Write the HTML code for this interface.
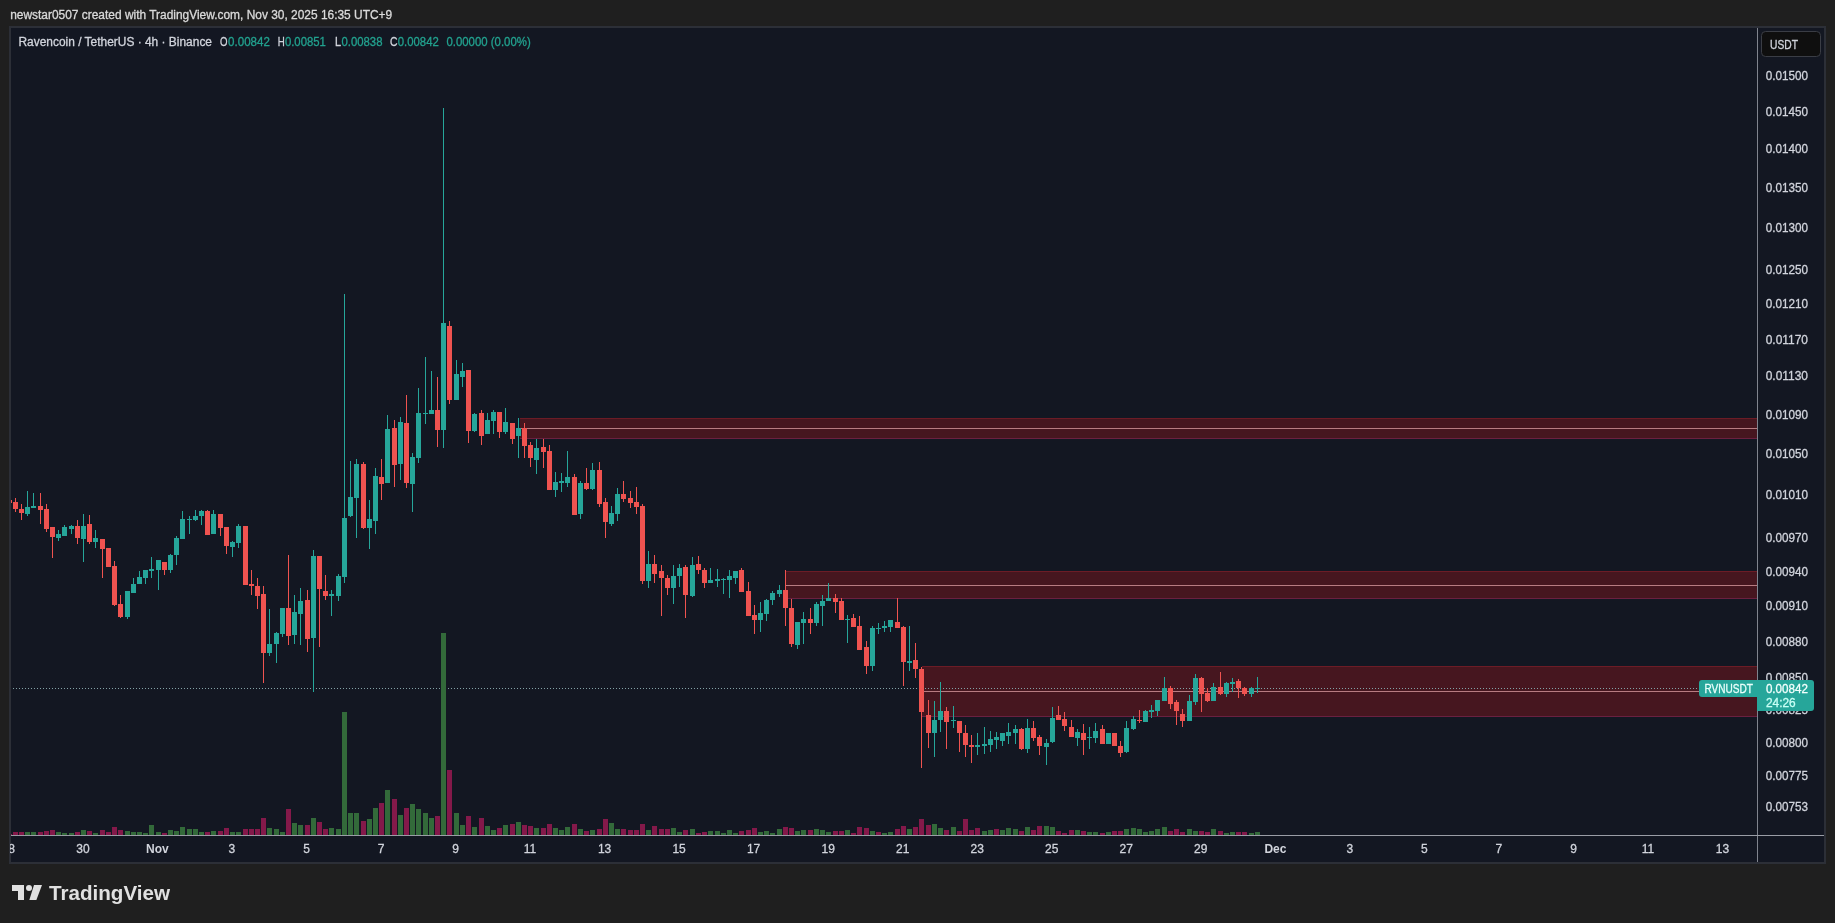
<!DOCTYPE html>
<html><head><meta charset="utf-8"><title>RVNUSDT chart</title>
<style>html,body{margin:0;padding:0;background:#1f1f1f;width:1835px;height:923px;overflow:hidden}</style>
</head><body>
<svg width="1835" height="923" viewBox="0 0 1835 923" style="position:absolute;left:0;top:0;will-change:transform">
<rect x="0" y="0" width="1835" height="923" fill="#1f1f1f"/>
<rect x="9" y="26" width="1817" height="838" fill="#2c2f37"/>
<rect x="11" y="28" width="1813" height="834" fill="#131722"/>
<defs><clipPath id="pane"><rect x="11" y="28" width="1746" height="807"/></clipPath><clipPath id="taxis"><rect x="10" y="836" width="1747" height="26"/></clipPath></defs>
<g clip-path="url(#pane)" shape-rendering="crispEdges">
<rect x="520" y="418" width="1237" height="21" fill="#46161f"/>
<rect x="520" y="418" width="1237" height="1" fill="#6c1c26"/>
<rect x="520" y="438" width="1237" height="1" fill="#6a2040"/>
<rect x="520" y="428" width="1237" height="1" fill="#b87c82"/>
<rect x="785" y="571" width="972" height="28" fill="#46161f"/>
<rect x="785" y="571" width="972" height="1" fill="#6c1c26"/>
<rect x="785" y="598" width="972" height="1" fill="#6a2040"/>
<rect x="785" y="585" width="972" height="1" fill="#b87c82"/>
<rect x="922" y="666" width="835" height="51" fill="#46161f"/>
<rect x="922" y="666" width="835" height="1" fill="#6c1c26"/>
<rect x="922" y="716" width="835" height="1" fill="#6a2040"/>
<rect x="922" y="691" width="835" height="1" fill="#b87c82"/>
<line x1="13" y1="688.5" x2="1699" y2="688.5" stroke="#84a2a6" stroke-width="1" stroke-dasharray="1,2" shape-rendering="crispEdges"/>
<rect x="7" y="834" width="5" height="1" fill="#84194a"/>
<rect x="13" y="832" width="5" height="3" fill="#84194a"/>
<rect x="19" y="832" width="5" height="3" fill="#84194a"/>
<rect x="25" y="832" width="5" height="3" fill="#336a3a"/>
<rect x="31" y="832" width="5" height="3" fill="#336a3a"/>
<rect x="38" y="832" width="5" height="3" fill="#84194a"/>
<rect x="44" y="831" width="5" height="4" fill="#84194a"/>
<rect x="50" y="830" width="5" height="5" fill="#84194a"/>
<rect x="56" y="832" width="5" height="3" fill="#336a3a"/>
<rect x="62" y="833" width="5" height="2" fill="#336a3a"/>
<rect x="69" y="833" width="5" height="2" fill="#336a3a"/>
<rect x="75" y="832" width="5" height="3" fill="#84194a"/>
<rect x="81" y="830" width="5" height="5" fill="#336a3a"/>
<rect x="87" y="831" width="5" height="4" fill="#84194a"/>
<rect x="93" y="833" width="5" height="2" fill="#336a3a"/>
<rect x="100" y="830" width="5" height="5" fill="#84194a"/>
<rect x="106" y="832" width="5" height="3" fill="#84194a"/>
<rect x="112" y="827" width="5" height="8" fill="#84194a"/>
<rect x="118" y="830" width="5" height="5" fill="#84194a"/>
<rect x="125" y="831" width="5" height="4" fill="#336a3a"/>
<rect x="131" y="832" width="5" height="3" fill="#336a3a"/>
<rect x="137" y="832" width="5" height="3" fill="#336a3a"/>
<rect x="143" y="833" width="5" height="2" fill="#336a3a"/>
<rect x="149" y="825" width="5" height="10" fill="#336a3a"/>
<rect x="156" y="832" width="5" height="3" fill="#336a3a"/>
<rect x="162" y="833" width="5" height="2" fill="#84194a"/>
<rect x="168" y="830" width="5" height="5" fill="#336a3a"/>
<rect x="174" y="831" width="5" height="4" fill="#336a3a"/>
<rect x="180" y="827" width="5" height="8" fill="#336a3a"/>
<rect x="187" y="829" width="5" height="6" fill="#336a3a"/>
<rect x="193" y="829" width="5" height="6" fill="#336a3a"/>
<rect x="199" y="832" width="5" height="3" fill="#336a3a"/>
<rect x="205" y="832" width="5" height="3" fill="#84194a"/>
<rect x="211" y="831" width="5" height="4" fill="#336a3a"/>
<rect x="218" y="831" width="5" height="4" fill="#84194a"/>
<rect x="224" y="828" width="5" height="7" fill="#84194a"/>
<rect x="230" y="832" width="5" height="3" fill="#336a3a"/>
<rect x="236" y="832" width="5" height="3" fill="#336a3a"/>
<rect x="243" y="829" width="5" height="6" fill="#84194a"/>
<rect x="249" y="829" width="5" height="6" fill="#84194a"/>
<rect x="255" y="829" width="5" height="6" fill="#84194a"/>
<rect x="261" y="818" width="5" height="17" fill="#84194a"/>
<rect x="267" y="828" width="5" height="7" fill="#336a3a"/>
<rect x="274" y="829" width="5" height="6" fill="#336a3a"/>
<rect x="280" y="832" width="5" height="3" fill="#336a3a"/>
<rect x="286" y="809" width="5" height="26" fill="#84194a"/>
<rect x="292" y="823" width="5" height="12" fill="#336a3a"/>
<rect x="298" y="825" width="5" height="10" fill="#336a3a"/>
<rect x="305" y="825" width="5" height="10" fill="#84194a"/>
<rect x="311" y="818" width="5" height="17" fill="#336a3a"/>
<rect x="317" y="822" width="5" height="13" fill="#84194a"/>
<rect x="323" y="829" width="5" height="6" fill="#84194a"/>
<rect x="329" y="828" width="5" height="7" fill="#336a3a"/>
<rect x="336" y="829" width="5" height="6" fill="#336a3a"/>
<rect x="342" y="712" width="5" height="123" fill="#336a3a"/>
<rect x="348" y="813" width="5" height="22" fill="#336a3a"/>
<rect x="354" y="813" width="5" height="22" fill="#336a3a"/>
<rect x="361" y="821" width="5" height="14" fill="#84194a"/>
<rect x="367" y="819" width="5" height="16" fill="#336a3a"/>
<rect x="373" y="808" width="5" height="27" fill="#336a3a"/>
<rect x="379" y="803" width="5" height="32" fill="#84194a"/>
<rect x="385" y="790" width="5" height="45" fill="#336a3a"/>
<rect x="392" y="799" width="5" height="36" fill="#84194a"/>
<rect x="398" y="815" width="5" height="20" fill="#336a3a"/>
<rect x="404" y="808" width="5" height="27" fill="#84194a"/>
<rect x="410" y="804" width="5" height="31" fill="#336a3a"/>
<rect x="416" y="809" width="5" height="26" fill="#336a3a"/>
<rect x="423" y="813" width="5" height="22" fill="#336a3a"/>
<rect x="429" y="818" width="5" height="17" fill="#336a3a"/>
<rect x="435" y="816" width="5" height="19" fill="#84194a"/>
<rect x="441" y="633" width="5" height="202" fill="#336a3a"/>
<rect x="447" y="770" width="5" height="65" fill="#84194a"/>
<rect x="454" y="813" width="5" height="22" fill="#336a3a"/>
<rect x="460" y="825" width="5" height="10" fill="#336a3a"/>
<rect x="466" y="816" width="5" height="19" fill="#84194a"/>
<rect x="472" y="827" width="5" height="8" fill="#336a3a"/>
<rect x="479" y="818" width="5" height="17" fill="#84194a"/>
<rect x="485" y="826" width="5" height="9" fill="#336a3a"/>
<rect x="491" y="830" width="5" height="5" fill="#336a3a"/>
<rect x="497" y="828" width="5" height="7" fill="#84194a"/>
<rect x="503" y="825" width="5" height="10" fill="#336a3a"/>
<rect x="510" y="824" width="5" height="11" fill="#84194a"/>
<rect x="516" y="822" width="5" height="13" fill="#336a3a"/>
<rect x="522" y="825" width="5" height="10" fill="#84194a"/>
<rect x="528" y="826" width="5" height="9" fill="#84194a"/>
<rect x="534" y="828" width="5" height="7" fill="#336a3a"/>
<rect x="541" y="828" width="5" height="7" fill="#84194a"/>
<rect x="547" y="824" width="5" height="11" fill="#84194a"/>
<rect x="553" y="828" width="5" height="7" fill="#336a3a"/>
<rect x="559" y="830" width="5" height="5" fill="#336a3a"/>
<rect x="565" y="827" width="5" height="8" fill="#336a3a"/>
<rect x="572" y="824" width="5" height="11" fill="#84194a"/>
<rect x="578" y="829" width="5" height="6" fill="#336a3a"/>
<rect x="584" y="831" width="5" height="4" fill="#84194a"/>
<rect x="590" y="830" width="5" height="5" fill="#336a3a"/>
<rect x="597" y="829" width="5" height="6" fill="#84194a"/>
<rect x="603" y="819" width="5" height="16" fill="#84194a"/>
<rect x="609" y="823" width="5" height="12" fill="#336a3a"/>
<rect x="615" y="829" width="5" height="6" fill="#336a3a"/>
<rect x="621" y="829" width="5" height="6" fill="#84194a"/>
<rect x="628" y="830" width="5" height="5" fill="#84194a"/>
<rect x="634" y="830" width="5" height="5" fill="#84194a"/>
<rect x="640" y="824" width="5" height="11" fill="#84194a"/>
<rect x="646" y="830" width="5" height="5" fill="#336a3a"/>
<rect x="652" y="826" width="5" height="9" fill="#84194a"/>
<rect x="659" y="829" width="5" height="6" fill="#84194a"/>
<rect x="665" y="829" width="5" height="6" fill="#84194a"/>
<rect x="671" y="828" width="5" height="7" fill="#336a3a"/>
<rect x="677" y="832" width="5" height="3" fill="#336a3a"/>
<rect x="683" y="830" width="5" height="5" fill="#84194a"/>
<rect x="690" y="829" width="5" height="6" fill="#336a3a"/>
<rect x="696" y="833" width="5" height="2" fill="#84194a"/>
<rect x="702" y="832" width="5" height="3" fill="#84194a"/>
<rect x="708" y="831" width="5" height="4" fill="#336a3a"/>
<rect x="715" y="831" width="5" height="4" fill="#336a3a"/>
<rect x="721" y="833" width="5" height="2" fill="#336a3a"/>
<rect x="727" y="830" width="5" height="5" fill="#336a3a"/>
<rect x="733" y="833" width="5" height="2" fill="#336a3a"/>
<rect x="739" y="831" width="5" height="4" fill="#84194a"/>
<rect x="746" y="830" width="5" height="5" fill="#84194a"/>
<rect x="752" y="828" width="5" height="7" fill="#84194a"/>
<rect x="758" y="832" width="5" height="3" fill="#336a3a"/>
<rect x="764" y="831" width="5" height="4" fill="#336a3a"/>
<rect x="770" y="833" width="5" height="2" fill="#336a3a"/>
<rect x="777" y="829" width="5" height="6" fill="#336a3a"/>
<rect x="783" y="827" width="5" height="8" fill="#84194a"/>
<rect x="789" y="828" width="5" height="7" fill="#84194a"/>
<rect x="795" y="831" width="5" height="4" fill="#336a3a"/>
<rect x="801" y="830" width="5" height="5" fill="#336a3a"/>
<rect x="808" y="830" width="5" height="5" fill="#84194a"/>
<rect x="814" y="829" width="5" height="6" fill="#336a3a"/>
<rect x="820" y="830" width="5" height="5" fill="#336a3a"/>
<rect x="826" y="832" width="5" height="3" fill="#336a3a"/>
<rect x="833" y="831" width="5" height="4" fill="#84194a"/>
<rect x="839" y="831" width="5" height="4" fill="#84194a"/>
<rect x="845" y="830" width="5" height="5" fill="#336a3a"/>
<rect x="851" y="833" width="5" height="2" fill="#84194a"/>
<rect x="857" y="827" width="5" height="8" fill="#84194a"/>
<rect x="864" y="828" width="5" height="7" fill="#84194a"/>
<rect x="870" y="831" width="5" height="4" fill="#336a3a"/>
<rect x="876" y="832" width="5" height="3" fill="#84194a"/>
<rect x="882" y="833" width="5" height="2" fill="#336a3a"/>
<rect x="888" y="832" width="5" height="3" fill="#336a3a"/>
<rect x="895" y="829" width="5" height="6" fill="#84194a"/>
<rect x="901" y="826" width="5" height="9" fill="#84194a"/>
<rect x="907" y="829" width="5" height="6" fill="#336a3a"/>
<rect x="913" y="827" width="5" height="8" fill="#84194a"/>
<rect x="919" y="819" width="5" height="16" fill="#84194a"/>
<rect x="926" y="825" width="5" height="10" fill="#84194a"/>
<rect x="932" y="824" width="5" height="11" fill="#336a3a"/>
<rect x="938" y="828" width="5" height="7" fill="#336a3a"/>
<rect x="944" y="830" width="5" height="5" fill="#84194a"/>
<rect x="951" y="827" width="5" height="8" fill="#336a3a"/>
<rect x="957" y="831" width="5" height="4" fill="#84194a"/>
<rect x="963" y="819" width="5" height="16" fill="#84194a"/>
<rect x="969" y="830" width="5" height="5" fill="#84194a"/>
<rect x="975" y="828" width="5" height="7" fill="#84194a"/>
<rect x="982" y="831" width="5" height="4" fill="#336a3a"/>
<rect x="988" y="830" width="5" height="5" fill="#336a3a"/>
<rect x="994" y="829" width="5" height="6" fill="#84194a"/>
<rect x="1000" y="830" width="5" height="5" fill="#336a3a"/>
<rect x="1006" y="828" width="5" height="7" fill="#336a3a"/>
<rect x="1013" y="829" width="5" height="6" fill="#336a3a"/>
<rect x="1019" y="831" width="5" height="4" fill="#84194a"/>
<rect x="1025" y="827" width="5" height="8" fill="#336a3a"/>
<rect x="1031" y="830" width="5" height="5" fill="#84194a"/>
<rect x="1037" y="826" width="5" height="9" fill="#84194a"/>
<rect x="1044" y="826" width="5" height="9" fill="#336a3a"/>
<rect x="1050" y="827" width="5" height="8" fill="#336a3a"/>
<rect x="1056" y="831" width="5" height="4" fill="#84194a"/>
<rect x="1062" y="833" width="5" height="2" fill="#84194a"/>
<rect x="1069" y="830" width="5" height="5" fill="#84194a"/>
<rect x="1075" y="830" width="5" height="5" fill="#336a3a"/>
<rect x="1081" y="831" width="5" height="4" fill="#84194a"/>
<rect x="1087" y="832" width="5" height="3" fill="#336a3a"/>
<rect x="1093" y="832" width="5" height="3" fill="#336a3a"/>
<rect x="1100" y="833" width="5" height="2" fill="#84194a"/>
<rect x="1106" y="832" width="5" height="3" fill="#336a3a"/>
<rect x="1112" y="831" width="5" height="4" fill="#84194a"/>
<rect x="1118" y="831" width="5" height="4" fill="#84194a"/>
<rect x="1124" y="829" width="5" height="6" fill="#336a3a"/>
<rect x="1131" y="828" width="5" height="7" fill="#336a3a"/>
<rect x="1137" y="829" width="5" height="6" fill="#336a3a"/>
<rect x="1143" y="832" width="5" height="3" fill="#336a3a"/>
<rect x="1149" y="831" width="5" height="4" fill="#336a3a"/>
<rect x="1155" y="829" width="5" height="6" fill="#336a3a"/>
<rect x="1162" y="827" width="5" height="8" fill="#336a3a"/>
<rect x="1168" y="831" width="5" height="4" fill="#84194a"/>
<rect x="1174" y="829" width="5" height="6" fill="#84194a"/>
<rect x="1180" y="832" width="5" height="3" fill="#84194a"/>
<rect x="1187" y="829" width="5" height="6" fill="#336a3a"/>
<rect x="1193" y="831" width="5" height="4" fill="#336a3a"/>
<rect x="1199" y="831" width="5" height="4" fill="#84194a"/>
<rect x="1205" y="832" width="5" height="3" fill="#84194a"/>
<rect x="1211" y="829" width="5" height="6" fill="#336a3a"/>
<rect x="1218" y="831" width="5" height="4" fill="#84194a"/>
<rect x="1224" y="833" width="5" height="2" fill="#336a3a"/>
<rect x="1230" y="832" width="5" height="3" fill="#336a3a"/>
<rect x="1236" y="832" width="5" height="3" fill="#84194a"/>
<rect x="1242" y="832" width="5" height="3" fill="#84194a"/>
<rect x="1249" y="833" width="5" height="2" fill="#336a3a"/>
<rect x="1255" y="832" width="5" height="3" fill="#336a3a"/>
<rect x="9" y="499" width="1" height="1" fill="#ef5350"/>
<rect x="7" y="500" width="5" height="3" fill="#ef5350"/>
<rect x="15" y="498" width="1" height="4" fill="#ef5350"/>
<rect x="15" y="509" width="1" height="3" fill="#ef5350"/>
<rect x="13" y="502" width="5" height="7" fill="#ef5350"/>
<rect x="21" y="504" width="1" height="5" fill="#ef5350"/>
<rect x="21" y="513" width="1" height="7" fill="#ef5350"/>
<rect x="19" y="509" width="5" height="4" fill="#ef5350"/>
<rect x="27" y="491" width="1" height="16" fill="#26a69a"/>
<rect x="27" y="514" width="1" height="2" fill="#26a69a"/>
<rect x="25" y="507" width="5" height="7" fill="#26a69a"/>
<rect x="33" y="493" width="1" height="13" fill="#26a69a"/>
<rect x="31" y="506" width="5" height="2" fill="#26a69a"/>
<rect x="40" y="493" width="1" height="13" fill="#ef5350"/>
<rect x="40" y="510" width="1" height="14" fill="#ef5350"/>
<rect x="38" y="506" width="5" height="4" fill="#ef5350"/>
<rect x="46" y="504" width="1" height="5" fill="#ef5350"/>
<rect x="46" y="529" width="1" height="3" fill="#ef5350"/>
<rect x="44" y="509" width="5" height="20" fill="#ef5350"/>
<rect x="52" y="537" width="1" height="21" fill="#ef5350"/>
<rect x="50" y="527" width="5" height="10" fill="#ef5350"/>
<rect x="58" y="530" width="1" height="4" fill="#26a69a"/>
<rect x="58" y="538" width="1" height="3" fill="#26a69a"/>
<rect x="56" y="534" width="5" height="4" fill="#26a69a"/>
<rect x="64" y="525" width="1" height="2" fill="#26a69a"/>
<rect x="62" y="527" width="5" height="9" fill="#26a69a"/>
<rect x="71" y="525" width="1" height="1" fill="#26a69a"/>
<rect x="71" y="529" width="1" height="5" fill="#26a69a"/>
<rect x="69" y="526" width="5" height="3" fill="#26a69a"/>
<rect x="77" y="520" width="1" height="6" fill="#ef5350"/>
<rect x="77" y="538" width="1" height="6" fill="#ef5350"/>
<rect x="75" y="526" width="5" height="12" fill="#ef5350"/>
<rect x="83" y="514" width="1" height="12" fill="#26a69a"/>
<rect x="83" y="539" width="1" height="23" fill="#26a69a"/>
<rect x="81" y="526" width="5" height="13" fill="#26a69a"/>
<rect x="89" y="515" width="1" height="9" fill="#ef5350"/>
<rect x="89" y="542" width="1" height="2" fill="#ef5350"/>
<rect x="87" y="524" width="5" height="18" fill="#ef5350"/>
<rect x="95" y="530" width="1" height="8" fill="#26a69a"/>
<rect x="95" y="542" width="1" height="6" fill="#26a69a"/>
<rect x="93" y="538" width="5" height="4" fill="#26a69a"/>
<rect x="102" y="549" width="1" height="29" fill="#ef5350"/>
<rect x="100" y="539" width="5" height="10" fill="#ef5350"/>
<rect x="106" y="548" width="5" height="19" fill="#ef5350"/>
<rect x="114" y="561" width="1" height="5" fill="#ef5350"/>
<rect x="114" y="605" width="1" height="1" fill="#ef5350"/>
<rect x="112" y="566" width="5" height="39" fill="#ef5350"/>
<rect x="120" y="595" width="1" height="9" fill="#ef5350"/>
<rect x="120" y="617" width="1" height="1" fill="#ef5350"/>
<rect x="118" y="604" width="5" height="13" fill="#ef5350"/>
<rect x="127" y="617" width="1" height="2" fill="#26a69a"/>
<rect x="125" y="591" width="5" height="26" fill="#26a69a"/>
<rect x="133" y="578" width="1" height="6" fill="#26a69a"/>
<rect x="131" y="584" width="5" height="9" fill="#26a69a"/>
<rect x="139" y="571" width="1" height="6" fill="#26a69a"/>
<rect x="137" y="577" width="5" height="7" fill="#26a69a"/>
<rect x="145" y="578" width="1" height="6" fill="#26a69a"/>
<rect x="143" y="570" width="5" height="8" fill="#26a69a"/>
<rect x="151" y="557" width="1" height="12" fill="#26a69a"/>
<rect x="151" y="571" width="1" height="7" fill="#26a69a"/>
<rect x="149" y="569" width="5" height="2" fill="#26a69a"/>
<rect x="158" y="570" width="1" height="20" fill="#26a69a"/>
<rect x="156" y="560" width="5" height="10" fill="#26a69a"/>
<rect x="164" y="570" width="1" height="5" fill="#ef5350"/>
<rect x="162" y="562" width="5" height="8" fill="#ef5350"/>
<rect x="170" y="554" width="1" height="1" fill="#26a69a"/>
<rect x="170" y="570" width="1" height="3" fill="#26a69a"/>
<rect x="168" y="555" width="5" height="15" fill="#26a69a"/>
<rect x="176" y="536" width="1" height="2" fill="#26a69a"/>
<rect x="176" y="555" width="1" height="10" fill="#26a69a"/>
<rect x="174" y="538" width="5" height="17" fill="#26a69a"/>
<rect x="182" y="511" width="1" height="8" fill="#26a69a"/>
<rect x="180" y="519" width="5" height="20" fill="#26a69a"/>
<rect x="189" y="516" width="1" height="3" fill="#26a69a"/>
<rect x="189" y="520" width="1" height="14" fill="#26a69a"/>
<rect x="187" y="519" width="5" height="1" fill="#26a69a"/>
<rect x="195" y="510" width="1" height="6" fill="#26a69a"/>
<rect x="195" y="520" width="1" height="1" fill="#26a69a"/>
<rect x="193" y="516" width="5" height="4" fill="#26a69a"/>
<rect x="201" y="510" width="1" height="1" fill="#26a69a"/>
<rect x="201" y="516" width="1" height="9" fill="#26a69a"/>
<rect x="199" y="511" width="5" height="5" fill="#26a69a"/>
<rect x="207" y="510" width="1" height="1" fill="#ef5350"/>
<rect x="205" y="511" width="5" height="24" fill="#ef5350"/>
<rect x="213" y="510" width="1" height="4" fill="#26a69a"/>
<rect x="211" y="514" width="5" height="20" fill="#26a69a"/>
<rect x="220" y="528" width="1" height="8" fill="#ef5350"/>
<rect x="218" y="514" width="5" height="14" fill="#ef5350"/>
<rect x="226" y="546" width="1" height="8" fill="#ef5350"/>
<rect x="224" y="527" width="5" height="19" fill="#ef5350"/>
<rect x="232" y="541" width="1" height="1" fill="#26a69a"/>
<rect x="232" y="547" width="1" height="10" fill="#26a69a"/>
<rect x="230" y="542" width="5" height="5" fill="#26a69a"/>
<rect x="238" y="524" width="1" height="2" fill="#26a69a"/>
<rect x="238" y="543" width="1" height="5" fill="#26a69a"/>
<rect x="236" y="526" width="5" height="17" fill="#26a69a"/>
<rect x="243" y="526" width="5" height="59" fill="#ef5350"/>
<rect x="251" y="570" width="1" height="14" fill="#ef5350"/>
<rect x="251" y="586" width="1" height="9" fill="#ef5350"/>
<rect x="249" y="584" width="5" height="2" fill="#ef5350"/>
<rect x="257" y="578" width="1" height="8" fill="#ef5350"/>
<rect x="257" y="596" width="1" height="13" fill="#ef5350"/>
<rect x="255" y="586" width="5" height="10" fill="#ef5350"/>
<rect x="263" y="586" width="1" height="8" fill="#ef5350"/>
<rect x="263" y="653" width="1" height="30" fill="#ef5350"/>
<rect x="261" y="594" width="5" height="59" fill="#ef5350"/>
<rect x="269" y="609" width="1" height="35" fill="#26a69a"/>
<rect x="269" y="653" width="1" height="3" fill="#26a69a"/>
<rect x="267" y="644" width="5" height="9" fill="#26a69a"/>
<rect x="276" y="632" width="1" height="1" fill="#26a69a"/>
<rect x="276" y="644" width="1" height="19" fill="#26a69a"/>
<rect x="274" y="633" width="5" height="11" fill="#26a69a"/>
<rect x="282" y="634" width="1" height="3" fill="#26a69a"/>
<rect x="280" y="608" width="5" height="26" fill="#26a69a"/>
<rect x="288" y="555" width="1" height="53" fill="#ef5350"/>
<rect x="288" y="636" width="1" height="9" fill="#ef5350"/>
<rect x="286" y="608" width="5" height="28" fill="#ef5350"/>
<rect x="294" y="595" width="1" height="17" fill="#26a69a"/>
<rect x="294" y="635" width="1" height="9" fill="#26a69a"/>
<rect x="292" y="612" width="5" height="23" fill="#26a69a"/>
<rect x="300" y="588" width="1" height="13" fill="#26a69a"/>
<rect x="300" y="614" width="1" height="31" fill="#26a69a"/>
<rect x="298" y="601" width="5" height="13" fill="#26a69a"/>
<rect x="307" y="590" width="1" height="10" fill="#ef5350"/>
<rect x="307" y="639" width="1" height="13" fill="#ef5350"/>
<rect x="305" y="600" width="5" height="39" fill="#ef5350"/>
<rect x="313" y="550" width="1" height="6" fill="#26a69a"/>
<rect x="313" y="638" width="1" height="54" fill="#26a69a"/>
<rect x="311" y="556" width="5" height="82" fill="#26a69a"/>
<rect x="319" y="589" width="1" height="58" fill="#ef5350"/>
<rect x="317" y="556" width="5" height="33" fill="#ef5350"/>
<rect x="325" y="575" width="1" height="16" fill="#ef5350"/>
<rect x="325" y="596" width="1" height="4" fill="#ef5350"/>
<rect x="323" y="591" width="5" height="5" fill="#ef5350"/>
<rect x="331" y="590" width="1" height="4" fill="#26a69a"/>
<rect x="331" y="596" width="1" height="20" fill="#26a69a"/>
<rect x="329" y="594" width="5" height="2" fill="#26a69a"/>
<rect x="338" y="574" width="1" height="2" fill="#26a69a"/>
<rect x="338" y="596" width="1" height="5" fill="#26a69a"/>
<rect x="336" y="576" width="5" height="20" fill="#26a69a"/>
<rect x="344" y="294" width="1" height="224" fill="#26a69a"/>
<rect x="344" y="577" width="1" height="6" fill="#26a69a"/>
<rect x="342" y="518" width="5" height="59" fill="#26a69a"/>
<rect x="350" y="461" width="1" height="36" fill="#26a69a"/>
<rect x="350" y="516" width="1" height="1" fill="#26a69a"/>
<rect x="348" y="497" width="5" height="19" fill="#26a69a"/>
<rect x="356" y="459" width="1" height="5" fill="#26a69a"/>
<rect x="356" y="498" width="1" height="40" fill="#26a69a"/>
<rect x="354" y="464" width="5" height="34" fill="#26a69a"/>
<rect x="363" y="462" width="1" height="2" fill="#ef5350"/>
<rect x="363" y="528" width="1" height="1" fill="#ef5350"/>
<rect x="361" y="464" width="5" height="64" fill="#ef5350"/>
<rect x="369" y="500" width="1" height="19" fill="#26a69a"/>
<rect x="369" y="528" width="1" height="21" fill="#26a69a"/>
<rect x="367" y="519" width="5" height="9" fill="#26a69a"/>
<rect x="375" y="468" width="1" height="8" fill="#26a69a"/>
<rect x="375" y="521" width="1" height="13" fill="#26a69a"/>
<rect x="373" y="476" width="5" height="45" fill="#26a69a"/>
<rect x="381" y="459" width="1" height="18" fill="#ef5350"/>
<rect x="381" y="484" width="1" height="16" fill="#ef5350"/>
<rect x="379" y="477" width="5" height="7" fill="#ef5350"/>
<rect x="387" y="415" width="1" height="14" fill="#26a69a"/>
<rect x="385" y="429" width="5" height="54" fill="#26a69a"/>
<rect x="394" y="420" width="1" height="8" fill="#ef5350"/>
<rect x="394" y="465" width="1" height="22" fill="#ef5350"/>
<rect x="392" y="428" width="5" height="37" fill="#ef5350"/>
<rect x="400" y="417" width="1" height="5" fill="#26a69a"/>
<rect x="400" y="464" width="1" height="16" fill="#26a69a"/>
<rect x="398" y="422" width="5" height="42" fill="#26a69a"/>
<rect x="406" y="395" width="1" height="28" fill="#ef5350"/>
<rect x="406" y="483" width="1" height="5" fill="#ef5350"/>
<rect x="404" y="423" width="5" height="60" fill="#ef5350"/>
<rect x="412" y="453" width="1" height="4" fill="#26a69a"/>
<rect x="412" y="484" width="1" height="28" fill="#26a69a"/>
<rect x="410" y="457" width="5" height="27" fill="#26a69a"/>
<rect x="418" y="388" width="1" height="25" fill="#26a69a"/>
<rect x="418" y="458" width="1" height="5" fill="#26a69a"/>
<rect x="416" y="413" width="5" height="45" fill="#26a69a"/>
<rect x="425" y="357" width="1" height="56" fill="#26a69a"/>
<rect x="425" y="414" width="1" height="10" fill="#26a69a"/>
<rect x="423" y="413" width="5" height="1" fill="#26a69a"/>
<rect x="431" y="371" width="1" height="39" fill="#26a69a"/>
<rect x="429" y="410" width="5" height="4" fill="#26a69a"/>
<rect x="437" y="377" width="1" height="33" fill="#ef5350"/>
<rect x="437" y="430" width="1" height="17" fill="#ef5350"/>
<rect x="435" y="410" width="5" height="20" fill="#ef5350"/>
<rect x="443" y="108" width="1" height="215" fill="#26a69a"/>
<rect x="443" y="430" width="1" height="18" fill="#26a69a"/>
<rect x="441" y="323" width="5" height="107" fill="#26a69a"/>
<rect x="449" y="321" width="1" height="5" fill="#ef5350"/>
<rect x="449" y="400" width="1" height="4" fill="#ef5350"/>
<rect x="447" y="326" width="5" height="74" fill="#ef5350"/>
<rect x="456" y="360" width="1" height="14" fill="#26a69a"/>
<rect x="454" y="374" width="5" height="26" fill="#26a69a"/>
<rect x="462" y="363" width="1" height="8" fill="#26a69a"/>
<rect x="462" y="377" width="1" height="10" fill="#26a69a"/>
<rect x="460" y="371" width="5" height="6" fill="#26a69a"/>
<rect x="468" y="431" width="1" height="12" fill="#ef5350"/>
<rect x="466" y="370" width="5" height="61" fill="#ef5350"/>
<rect x="474" y="413" width="1" height="1" fill="#26a69a"/>
<rect x="474" y="431" width="1" height="1" fill="#26a69a"/>
<rect x="472" y="414" width="5" height="17" fill="#26a69a"/>
<rect x="481" y="410" width="1" height="3" fill="#ef5350"/>
<rect x="481" y="436" width="1" height="9" fill="#ef5350"/>
<rect x="479" y="413" width="5" height="23" fill="#ef5350"/>
<rect x="487" y="413" width="1" height="7" fill="#26a69a"/>
<rect x="485" y="420" width="5" height="14" fill="#26a69a"/>
<rect x="493" y="410" width="1" height="2" fill="#26a69a"/>
<rect x="493" y="421" width="1" height="13" fill="#26a69a"/>
<rect x="491" y="412" width="5" height="9" fill="#26a69a"/>
<rect x="499" y="432" width="1" height="6" fill="#ef5350"/>
<rect x="497" y="412" width="5" height="20" fill="#ef5350"/>
<rect x="505" y="408" width="1" height="14" fill="#26a69a"/>
<rect x="505" y="432" width="1" height="2" fill="#26a69a"/>
<rect x="503" y="422" width="5" height="10" fill="#26a69a"/>
<rect x="512" y="439" width="1" height="5" fill="#ef5350"/>
<rect x="510" y="423" width="5" height="16" fill="#ef5350"/>
<rect x="518" y="418" width="1" height="10" fill="#26a69a"/>
<rect x="518" y="436" width="1" height="22" fill="#26a69a"/>
<rect x="516" y="428" width="5" height="8" fill="#26a69a"/>
<rect x="524" y="423" width="1" height="5" fill="#ef5350"/>
<rect x="524" y="446" width="1" height="12" fill="#ef5350"/>
<rect x="522" y="428" width="5" height="18" fill="#ef5350"/>
<rect x="530" y="442" width="1" height="3" fill="#ef5350"/>
<rect x="530" y="458" width="1" height="9" fill="#ef5350"/>
<rect x="528" y="445" width="5" height="13" fill="#ef5350"/>
<rect x="536" y="439" width="1" height="9" fill="#26a69a"/>
<rect x="536" y="460" width="1" height="14" fill="#26a69a"/>
<rect x="534" y="448" width="5" height="12" fill="#26a69a"/>
<rect x="543" y="439" width="1" height="8" fill="#ef5350"/>
<rect x="543" y="452" width="1" height="16" fill="#ef5350"/>
<rect x="541" y="447" width="5" height="5" fill="#ef5350"/>
<rect x="549" y="445" width="1" height="6" fill="#ef5350"/>
<rect x="547" y="451" width="5" height="39" fill="#ef5350"/>
<rect x="555" y="472" width="1" height="10" fill="#26a69a"/>
<rect x="555" y="490" width="1" height="7" fill="#26a69a"/>
<rect x="553" y="482" width="5" height="8" fill="#26a69a"/>
<rect x="561" y="473" width="1" height="8" fill="#26a69a"/>
<rect x="561" y="483" width="1" height="9" fill="#26a69a"/>
<rect x="559" y="481" width="5" height="2" fill="#26a69a"/>
<rect x="567" y="451" width="1" height="26" fill="#26a69a"/>
<rect x="567" y="483" width="1" height="4" fill="#26a69a"/>
<rect x="565" y="477" width="5" height="6" fill="#26a69a"/>
<rect x="574" y="474" width="1" height="3" fill="#ef5350"/>
<rect x="572" y="477" width="5" height="38" fill="#ef5350"/>
<rect x="580" y="481" width="1" height="2" fill="#26a69a"/>
<rect x="580" y="514" width="1" height="5" fill="#26a69a"/>
<rect x="578" y="483" width="5" height="31" fill="#26a69a"/>
<rect x="586" y="468" width="1" height="15" fill="#ef5350"/>
<rect x="586" y="489" width="1" height="1" fill="#ef5350"/>
<rect x="584" y="483" width="5" height="6" fill="#ef5350"/>
<rect x="592" y="463" width="1" height="7" fill="#26a69a"/>
<rect x="592" y="489" width="1" height="1" fill="#26a69a"/>
<rect x="590" y="470" width="5" height="19" fill="#26a69a"/>
<rect x="599" y="462" width="1" height="8" fill="#ef5350"/>
<rect x="599" y="504" width="1" height="3" fill="#ef5350"/>
<rect x="597" y="470" width="5" height="34" fill="#ef5350"/>
<rect x="605" y="498" width="1" height="4" fill="#ef5350"/>
<rect x="605" y="522" width="1" height="16" fill="#ef5350"/>
<rect x="603" y="502" width="5" height="20" fill="#ef5350"/>
<rect x="611" y="506" width="1" height="7" fill="#26a69a"/>
<rect x="611" y="524" width="1" height="2" fill="#26a69a"/>
<rect x="609" y="513" width="5" height="11" fill="#26a69a"/>
<rect x="617" y="488" width="1" height="6" fill="#26a69a"/>
<rect x="617" y="514" width="1" height="7" fill="#26a69a"/>
<rect x="615" y="494" width="5" height="20" fill="#26a69a"/>
<rect x="623" y="481" width="1" height="13" fill="#ef5350"/>
<rect x="623" y="499" width="1" height="3" fill="#ef5350"/>
<rect x="621" y="494" width="5" height="5" fill="#ef5350"/>
<rect x="630" y="491" width="1" height="7" fill="#ef5350"/>
<rect x="630" y="503" width="1" height="5" fill="#ef5350"/>
<rect x="628" y="498" width="5" height="5" fill="#ef5350"/>
<rect x="636" y="487" width="1" height="15" fill="#ef5350"/>
<rect x="636" y="507" width="1" height="7" fill="#ef5350"/>
<rect x="634" y="502" width="5" height="5" fill="#ef5350"/>
<rect x="642" y="504" width="1" height="2" fill="#ef5350"/>
<rect x="642" y="581" width="1" height="3" fill="#ef5350"/>
<rect x="640" y="506" width="5" height="75" fill="#ef5350"/>
<rect x="648" y="551" width="1" height="13" fill="#26a69a"/>
<rect x="648" y="581" width="1" height="7" fill="#26a69a"/>
<rect x="646" y="564" width="5" height="17" fill="#26a69a"/>
<rect x="654" y="555" width="1" height="9" fill="#ef5350"/>
<rect x="654" y="574" width="1" height="9" fill="#ef5350"/>
<rect x="652" y="564" width="5" height="10" fill="#ef5350"/>
<rect x="661" y="565" width="1" height="6" fill="#ef5350"/>
<rect x="661" y="578" width="1" height="38" fill="#ef5350"/>
<rect x="659" y="571" width="5" height="7" fill="#ef5350"/>
<rect x="667" y="575" width="1" height="3" fill="#ef5350"/>
<rect x="667" y="588" width="1" height="7" fill="#ef5350"/>
<rect x="665" y="578" width="5" height="10" fill="#ef5350"/>
<rect x="673" y="565" width="1" height="11" fill="#26a69a"/>
<rect x="673" y="588" width="1" height="16" fill="#26a69a"/>
<rect x="671" y="576" width="5" height="12" fill="#26a69a"/>
<rect x="679" y="564" width="1" height="4" fill="#26a69a"/>
<rect x="679" y="576" width="1" height="11" fill="#26a69a"/>
<rect x="677" y="568" width="5" height="8" fill="#26a69a"/>
<rect x="685" y="565" width="1" height="2" fill="#ef5350"/>
<rect x="685" y="595" width="1" height="23" fill="#ef5350"/>
<rect x="683" y="567" width="5" height="28" fill="#ef5350"/>
<rect x="692" y="557" width="1" height="8" fill="#26a69a"/>
<rect x="692" y="596" width="1" height="1" fill="#26a69a"/>
<rect x="690" y="565" width="5" height="31" fill="#26a69a"/>
<rect x="698" y="556" width="1" height="8" fill="#ef5350"/>
<rect x="698" y="570" width="1" height="4" fill="#ef5350"/>
<rect x="696" y="564" width="5" height="6" fill="#ef5350"/>
<rect x="704" y="568" width="1" height="2" fill="#ef5350"/>
<rect x="704" y="583" width="1" height="5" fill="#ef5350"/>
<rect x="702" y="570" width="5" height="13" fill="#ef5350"/>
<rect x="710" y="568" width="1" height="12" fill="#26a69a"/>
<rect x="708" y="580" width="5" height="3" fill="#26a69a"/>
<rect x="717" y="569" width="1" height="10" fill="#26a69a"/>
<rect x="717" y="581" width="1" height="6" fill="#26a69a"/>
<rect x="715" y="579" width="5" height="2" fill="#26a69a"/>
<rect x="723" y="578" width="1" height="1" fill="#26a69a"/>
<rect x="723" y="580" width="1" height="14" fill="#26a69a"/>
<rect x="721" y="579" width="5" height="1" fill="#26a69a"/>
<rect x="729" y="570" width="1" height="6" fill="#26a69a"/>
<rect x="729" y="580" width="1" height="18" fill="#26a69a"/>
<rect x="727" y="576" width="5" height="4" fill="#26a69a"/>
<rect x="735" y="578" width="1" height="6" fill="#26a69a"/>
<rect x="733" y="571" width="5" height="7" fill="#26a69a"/>
<rect x="741" y="568" width="1" height="2" fill="#ef5350"/>
<rect x="739" y="570" width="5" height="22" fill="#ef5350"/>
<rect x="748" y="582" width="1" height="9" fill="#ef5350"/>
<rect x="746" y="591" width="5" height="25" fill="#ef5350"/>
<rect x="754" y="605" width="1" height="10" fill="#ef5350"/>
<rect x="754" y="620" width="1" height="14" fill="#ef5350"/>
<rect x="752" y="615" width="5" height="5" fill="#ef5350"/>
<rect x="760" y="602" width="1" height="11" fill="#26a69a"/>
<rect x="760" y="620" width="1" height="12" fill="#26a69a"/>
<rect x="758" y="613" width="5" height="7" fill="#26a69a"/>
<rect x="766" y="599" width="1" height="1" fill="#26a69a"/>
<rect x="766" y="614" width="1" height="7" fill="#26a69a"/>
<rect x="764" y="600" width="5" height="14" fill="#26a69a"/>
<rect x="772" y="591" width="1" height="2" fill="#26a69a"/>
<rect x="772" y="600" width="1" height="5" fill="#26a69a"/>
<rect x="770" y="593" width="5" height="7" fill="#26a69a"/>
<rect x="779" y="585" width="1" height="5" fill="#26a69a"/>
<rect x="779" y="594" width="1" height="3" fill="#26a69a"/>
<rect x="777" y="590" width="5" height="4" fill="#26a69a"/>
<rect x="785" y="570" width="1" height="20" fill="#ef5350"/>
<rect x="785" y="608" width="1" height="18" fill="#ef5350"/>
<rect x="783" y="590" width="5" height="18" fill="#ef5350"/>
<rect x="791" y="599" width="1" height="9" fill="#ef5350"/>
<rect x="791" y="644" width="1" height="3" fill="#ef5350"/>
<rect x="789" y="608" width="5" height="36" fill="#ef5350"/>
<rect x="797" y="645" width="1" height="4" fill="#26a69a"/>
<rect x="795" y="622" width="5" height="23" fill="#26a69a"/>
<rect x="803" y="612" width="1" height="7" fill="#26a69a"/>
<rect x="803" y="623" width="1" height="21" fill="#26a69a"/>
<rect x="801" y="619" width="5" height="4" fill="#26a69a"/>
<rect x="810" y="608" width="1" height="11" fill="#ef5350"/>
<rect x="810" y="623" width="1" height="11" fill="#ef5350"/>
<rect x="808" y="619" width="5" height="4" fill="#ef5350"/>
<rect x="816" y="602" width="1" height="2" fill="#26a69a"/>
<rect x="816" y="623" width="1" height="3" fill="#26a69a"/>
<rect x="814" y="604" width="5" height="19" fill="#26a69a"/>
<rect x="822" y="595" width="1" height="6" fill="#26a69a"/>
<rect x="822" y="606" width="1" height="20" fill="#26a69a"/>
<rect x="820" y="601" width="5" height="5" fill="#26a69a"/>
<rect x="828" y="583" width="1" height="15" fill="#26a69a"/>
<rect x="826" y="598" width="5" height="3" fill="#26a69a"/>
<rect x="835" y="594" width="1" height="4" fill="#ef5350"/>
<rect x="835" y="602" width="1" height="11" fill="#ef5350"/>
<rect x="833" y="598" width="5" height="4" fill="#ef5350"/>
<rect x="841" y="598" width="1" height="3" fill="#ef5350"/>
<rect x="839" y="601" width="5" height="19" fill="#ef5350"/>
<rect x="847" y="615" width="1" height="4" fill="#26a69a"/>
<rect x="847" y="620" width="1" height="23" fill="#26a69a"/>
<rect x="845" y="619" width="5" height="1" fill="#26a69a"/>
<rect x="853" y="614" width="1" height="4" fill="#ef5350"/>
<rect x="851" y="618" width="5" height="9" fill="#ef5350"/>
<rect x="859" y="616" width="1" height="10" fill="#ef5350"/>
<rect x="857" y="626" width="5" height="24" fill="#ef5350"/>
<rect x="866" y="641" width="1" height="6" fill="#ef5350"/>
<rect x="866" y="666" width="1" height="8" fill="#ef5350"/>
<rect x="864" y="647" width="5" height="19" fill="#ef5350"/>
<rect x="872" y="626" width="1" height="2" fill="#26a69a"/>
<rect x="872" y="666" width="1" height="5" fill="#26a69a"/>
<rect x="870" y="628" width="5" height="38" fill="#26a69a"/>
<rect x="878" y="623" width="1" height="5" fill="#26a69a"/>
<rect x="878" y="629" width="1" height="5" fill="#26a69a"/>
<rect x="876" y="628" width="5" height="1" fill="#26a69a"/>
<rect x="884" y="621" width="1" height="5" fill="#26a69a"/>
<rect x="884" y="628" width="1" height="4" fill="#26a69a"/>
<rect x="882" y="626" width="5" height="2" fill="#26a69a"/>
<rect x="890" y="627" width="1" height="5" fill="#26a69a"/>
<rect x="888" y="620" width="5" height="7" fill="#26a69a"/>
<rect x="897" y="598" width="1" height="24" fill="#ef5350"/>
<rect x="895" y="622" width="5" height="6" fill="#ef5350"/>
<rect x="903" y="626" width="1" height="1" fill="#ef5350"/>
<rect x="903" y="662" width="1" height="24" fill="#ef5350"/>
<rect x="901" y="627" width="5" height="35" fill="#ef5350"/>
<rect x="909" y="626" width="1" height="35" fill="#26a69a"/>
<rect x="909" y="663" width="1" height="8" fill="#26a69a"/>
<rect x="907" y="661" width="5" height="2" fill="#26a69a"/>
<rect x="915" y="643" width="1" height="17" fill="#ef5350"/>
<rect x="915" y="669" width="1" height="9" fill="#ef5350"/>
<rect x="913" y="660" width="5" height="9" fill="#ef5350"/>
<rect x="921" y="667" width="1" height="2" fill="#ef5350"/>
<rect x="921" y="712" width="1" height="56" fill="#ef5350"/>
<rect x="919" y="669" width="5" height="43" fill="#ef5350"/>
<rect x="928" y="700" width="1" height="15" fill="#ef5350"/>
<rect x="928" y="733" width="1" height="15" fill="#ef5350"/>
<rect x="926" y="715" width="5" height="18" fill="#ef5350"/>
<rect x="934" y="701" width="1" height="19" fill="#26a69a"/>
<rect x="934" y="733" width="1" height="24" fill="#26a69a"/>
<rect x="932" y="720" width="5" height="13" fill="#26a69a"/>
<rect x="940" y="682" width="1" height="29" fill="#26a69a"/>
<rect x="940" y="720" width="1" height="12" fill="#26a69a"/>
<rect x="938" y="711" width="5" height="9" fill="#26a69a"/>
<rect x="946" y="707" width="1" height="4" fill="#ef5350"/>
<rect x="946" y="722" width="1" height="27" fill="#ef5350"/>
<rect x="944" y="711" width="5" height="11" fill="#ef5350"/>
<rect x="953" y="706" width="1" height="14" fill="#26a69a"/>
<rect x="953" y="721" width="1" height="7" fill="#26a69a"/>
<rect x="951" y="720" width="5" height="1" fill="#26a69a"/>
<rect x="959" y="733" width="1" height="19" fill="#ef5350"/>
<rect x="957" y="721" width="5" height="12" fill="#ef5350"/>
<rect x="965" y="725" width="1" height="8" fill="#ef5350"/>
<rect x="965" y="745" width="1" height="12" fill="#ef5350"/>
<rect x="963" y="733" width="5" height="12" fill="#ef5350"/>
<rect x="971" y="735" width="1" height="10" fill="#ef5350"/>
<rect x="971" y="747" width="1" height="16" fill="#ef5350"/>
<rect x="969" y="745" width="5" height="2" fill="#ef5350"/>
<rect x="977" y="733" width="1" height="12" fill="#26a69a"/>
<rect x="977" y="747" width="1" height="8" fill="#26a69a"/>
<rect x="975" y="745" width="5" height="2" fill="#26a69a"/>
<rect x="984" y="727" width="1" height="17" fill="#26a69a"/>
<rect x="984" y="746" width="1" height="8" fill="#26a69a"/>
<rect x="982" y="744" width="5" height="2" fill="#26a69a"/>
<rect x="990" y="731" width="1" height="8" fill="#26a69a"/>
<rect x="990" y="745" width="1" height="7" fill="#26a69a"/>
<rect x="988" y="739" width="5" height="6" fill="#26a69a"/>
<rect x="996" y="732" width="1" height="5" fill="#26a69a"/>
<rect x="996" y="740" width="1" height="9" fill="#26a69a"/>
<rect x="994" y="737" width="5" height="3" fill="#26a69a"/>
<rect x="1002" y="741" width="1" height="5" fill="#26a69a"/>
<rect x="1000" y="733" width="5" height="8" fill="#26a69a"/>
<rect x="1008" y="723" width="1" height="9" fill="#26a69a"/>
<rect x="1008" y="736" width="1" height="8" fill="#26a69a"/>
<rect x="1006" y="732" width="5" height="4" fill="#26a69a"/>
<rect x="1015" y="725" width="1" height="4" fill="#26a69a"/>
<rect x="1015" y="733" width="1" height="11" fill="#26a69a"/>
<rect x="1013" y="729" width="5" height="4" fill="#26a69a"/>
<rect x="1021" y="728" width="1" height="1" fill="#ef5350"/>
<rect x="1021" y="749" width="1" height="1" fill="#ef5350"/>
<rect x="1019" y="729" width="5" height="20" fill="#ef5350"/>
<rect x="1027" y="719" width="1" height="9" fill="#26a69a"/>
<rect x="1027" y="749" width="1" height="4" fill="#26a69a"/>
<rect x="1025" y="728" width="5" height="21" fill="#26a69a"/>
<rect x="1033" y="721" width="1" height="7" fill="#ef5350"/>
<rect x="1033" y="738" width="1" height="3" fill="#ef5350"/>
<rect x="1031" y="728" width="5" height="10" fill="#ef5350"/>
<rect x="1039" y="735" width="1" height="2" fill="#ef5350"/>
<rect x="1039" y="746" width="1" height="9" fill="#ef5350"/>
<rect x="1037" y="737" width="5" height="9" fill="#ef5350"/>
<rect x="1046" y="739" width="1" height="4" fill="#26a69a"/>
<rect x="1046" y="747" width="1" height="18" fill="#26a69a"/>
<rect x="1044" y="743" width="5" height="4" fill="#26a69a"/>
<rect x="1052" y="707" width="1" height="11" fill="#26a69a"/>
<rect x="1052" y="742" width="1" height="1" fill="#26a69a"/>
<rect x="1050" y="718" width="5" height="24" fill="#26a69a"/>
<rect x="1058" y="706" width="1" height="9" fill="#ef5350"/>
<rect x="1056" y="715" width="5" height="5" fill="#ef5350"/>
<rect x="1064" y="712" width="1" height="7" fill="#ef5350"/>
<rect x="1064" y="726" width="1" height="5" fill="#ef5350"/>
<rect x="1062" y="719" width="5" height="7" fill="#ef5350"/>
<rect x="1071" y="720" width="1" height="7" fill="#ef5350"/>
<rect x="1069" y="727" width="5" height="10" fill="#ef5350"/>
<rect x="1077" y="729" width="1" height="3" fill="#26a69a"/>
<rect x="1077" y="738" width="1" height="8" fill="#26a69a"/>
<rect x="1075" y="732" width="5" height="6" fill="#26a69a"/>
<rect x="1083" y="724" width="1" height="9" fill="#ef5350"/>
<rect x="1083" y="740" width="1" height="15" fill="#ef5350"/>
<rect x="1081" y="733" width="5" height="7" fill="#ef5350"/>
<rect x="1089" y="727" width="1" height="10" fill="#26a69a"/>
<rect x="1089" y="738" width="1" height="11" fill="#26a69a"/>
<rect x="1087" y="737" width="5" height="1" fill="#26a69a"/>
<rect x="1095" y="723" width="1" height="8" fill="#26a69a"/>
<rect x="1095" y="738" width="1" height="5" fill="#26a69a"/>
<rect x="1093" y="731" width="5" height="7" fill="#26a69a"/>
<rect x="1102" y="725" width="1" height="4" fill="#ef5350"/>
<rect x="1100" y="729" width="5" height="15" fill="#ef5350"/>
<rect x="1106" y="733" width="5" height="11" fill="#26a69a"/>
<rect x="1112" y="733" width="5" height="13" fill="#ef5350"/>
<rect x="1120" y="741" width="1" height="5" fill="#ef5350"/>
<rect x="1120" y="753" width="1" height="4" fill="#ef5350"/>
<rect x="1118" y="746" width="5" height="7" fill="#ef5350"/>
<rect x="1126" y="721" width="1" height="7" fill="#26a69a"/>
<rect x="1126" y="752" width="1" height="1" fill="#26a69a"/>
<rect x="1124" y="728" width="5" height="24" fill="#26a69a"/>
<rect x="1133" y="716" width="1" height="3" fill="#26a69a"/>
<rect x="1133" y="729" width="1" height="1" fill="#26a69a"/>
<rect x="1131" y="719" width="5" height="10" fill="#26a69a"/>
<rect x="1139" y="710" width="1" height="10" fill="#ef5350"/>
<rect x="1139" y="721" width="1" height="2" fill="#ef5350"/>
<rect x="1137" y="720" width="5" height="1" fill="#ef5350"/>
<rect x="1145" y="710" width="1" height="1" fill="#26a69a"/>
<rect x="1143" y="711" width="5" height="11" fill="#26a69a"/>
<rect x="1151" y="705" width="1" height="5" fill="#26a69a"/>
<rect x="1151" y="712" width="1" height="6" fill="#26a69a"/>
<rect x="1149" y="710" width="5" height="2" fill="#26a69a"/>
<rect x="1157" y="711" width="1" height="5" fill="#26a69a"/>
<rect x="1155" y="700" width="5" height="11" fill="#26a69a"/>
<rect x="1164" y="677" width="1" height="11" fill="#26a69a"/>
<rect x="1162" y="688" width="5" height="13" fill="#26a69a"/>
<rect x="1170" y="686" width="1" height="2" fill="#ef5350"/>
<rect x="1170" y="704" width="1" height="5" fill="#ef5350"/>
<rect x="1168" y="688" width="5" height="16" fill="#ef5350"/>
<rect x="1176" y="700" width="1" height="2" fill="#ef5350"/>
<rect x="1176" y="711" width="1" height="14" fill="#ef5350"/>
<rect x="1174" y="702" width="5" height="9" fill="#ef5350"/>
<rect x="1182" y="709" width="1" height="5" fill="#ef5350"/>
<rect x="1182" y="721" width="1" height="6" fill="#ef5350"/>
<rect x="1180" y="714" width="5" height="7" fill="#ef5350"/>
<rect x="1189" y="695" width="1" height="6" fill="#26a69a"/>
<rect x="1187" y="701" width="5" height="20" fill="#26a69a"/>
<rect x="1195" y="674" width="1" height="4" fill="#26a69a"/>
<rect x="1195" y="702" width="1" height="3" fill="#26a69a"/>
<rect x="1193" y="678" width="5" height="24" fill="#26a69a"/>
<rect x="1201" y="677" width="1" height="1" fill="#ef5350"/>
<rect x="1201" y="694" width="1" height="18" fill="#ef5350"/>
<rect x="1199" y="678" width="5" height="16" fill="#ef5350"/>
<rect x="1207" y="688" width="1" height="5" fill="#ef5350"/>
<rect x="1207" y="701" width="1" height="1" fill="#ef5350"/>
<rect x="1205" y="693" width="5" height="8" fill="#ef5350"/>
<rect x="1213" y="683" width="1" height="4" fill="#26a69a"/>
<rect x="1211" y="687" width="5" height="14" fill="#26a69a"/>
<rect x="1220" y="672" width="1" height="15" fill="#ef5350"/>
<rect x="1220" y="694" width="1" height="1" fill="#ef5350"/>
<rect x="1218" y="687" width="5" height="7" fill="#ef5350"/>
<rect x="1226" y="682" width="1" height="1" fill="#26a69a"/>
<rect x="1226" y="694" width="1" height="3" fill="#26a69a"/>
<rect x="1224" y="683" width="5" height="11" fill="#26a69a"/>
<rect x="1232" y="678" width="1" height="4" fill="#26a69a"/>
<rect x="1232" y="684" width="1" height="8" fill="#26a69a"/>
<rect x="1230" y="682" width="5" height="2" fill="#26a69a"/>
<rect x="1238" y="679" width="1" height="2" fill="#ef5350"/>
<rect x="1238" y="688" width="1" height="10" fill="#ef5350"/>
<rect x="1236" y="681" width="5" height="7" fill="#ef5350"/>
<rect x="1244" y="687" width="1" height="1" fill="#ef5350"/>
<rect x="1244" y="694" width="1" height="2" fill="#ef5350"/>
<rect x="1242" y="688" width="5" height="6" fill="#ef5350"/>
<rect x="1251" y="687" width="1" height="1" fill="#26a69a"/>
<rect x="1251" y="694" width="1" height="3" fill="#26a69a"/>
<rect x="1249" y="688" width="5" height="6" fill="#26a69a"/>
<rect x="1257" y="677" width="1" height="11" fill="#26a69a"/>
<rect x="1257" y="689" width="1" height="4" fill="#26a69a"/>
<rect x="1255" y="688" width="5" height="1" fill="#26a69a"/>
</g>
<rect x="1757" y="28" width="1" height="834" fill="#80848e" shape-rendering="crispEdges"/>
<rect x="11" y="835" width="1813" height="1" fill="#9a9da6" shape-rendering="crispEdges"/>
<text x="10.2" y="18.7" font-family="'Liberation Sans', sans-serif" font-size="12" fill="#dadada" textLength="382" lengthAdjust="spacingAndGlyphs" stroke="#dadada" stroke-width="0.3">newstar0507 created with TradingView.com, Nov 30, 2025 16:35 UTC+9</text>
<text x="18.5" y="45.8" font-family="'Liberation Sans', sans-serif" font-size="12" fill="#d1d4dc" textLength="193.5" lengthAdjust="spacingAndGlyphs" stroke="#d1d4dc" stroke-width="0.3">Ravencoin / TetherUS · 4h · Binance</text>
<text x="219.9" y="45.8" font-family="'Liberation Sans', sans-serif" font-size="12" fill="#d1d4dc" textLength="7.5" lengthAdjust="spacingAndGlyphs" stroke="#d1d4dc" stroke-width="0.3">O</text>
<text x="228.1" y="45.8" font-family="'Liberation Sans', sans-serif" font-size="12" fill="#22a28f" textLength="41.8" lengthAdjust="spacingAndGlyphs" stroke="#22a28f" stroke-width="0.3">0.00842</text>
<text x="277.7" y="45.8" font-family="'Liberation Sans', sans-serif" font-size="12" fill="#d1d4dc" textLength="7" lengthAdjust="spacingAndGlyphs" stroke="#d1d4dc" stroke-width="0.3">H</text>
<text x="284.9" y="45.8" font-family="'Liberation Sans', sans-serif" font-size="12" fill="#22a28f" textLength="41" lengthAdjust="spacingAndGlyphs" stroke="#22a28f" stroke-width="0.3">0.00851</text>
<text x="335" y="45.8" font-family="'Liberation Sans', sans-serif" font-size="12" fill="#d1d4dc" textLength="6" lengthAdjust="spacingAndGlyphs" stroke="#d1d4dc" stroke-width="0.3">L</text>
<text x="341.5" y="45.8" font-family="'Liberation Sans', sans-serif" font-size="12" fill="#22a28f" textLength="41" lengthAdjust="spacingAndGlyphs" stroke="#22a28f" stroke-width="0.3">0.00838</text>
<text x="390" y="45.8" font-family="'Liberation Sans', sans-serif" font-size="12" fill="#d1d4dc" textLength="7.5" lengthAdjust="spacingAndGlyphs" stroke="#d1d4dc" stroke-width="0.3">C</text>
<text x="397.8" y="45.8" font-family="'Liberation Sans', sans-serif" font-size="12" fill="#22a28f" textLength="41" lengthAdjust="spacingAndGlyphs" stroke="#22a28f" stroke-width="0.3">0.00842</text>
<text x="446.4" y="45.8" font-family="'Liberation Sans', sans-serif" font-size="12" fill="#22a28f" textLength="84.3" lengthAdjust="spacingAndGlyphs" stroke="#22a28f" stroke-width="0.3">0.00000 (0.00%)</text>
<text x="1765.7" y="80.2" font-family="'Liberation Sans', sans-serif" font-size="12" fill="#d1d4dc" textLength="42.3" lengthAdjust="spacingAndGlyphs" stroke="#d1d4dc" stroke-width="0.3">0.01500</text>
<text x="1765.7" y="116.1" font-family="'Liberation Sans', sans-serif" font-size="12" fill="#d1d4dc" textLength="42.3" lengthAdjust="spacingAndGlyphs" stroke="#d1d4dc" stroke-width="0.3">0.01450</text>
<text x="1765.7" y="153.3" font-family="'Liberation Sans', sans-serif" font-size="12" fill="#d1d4dc" textLength="42.3" lengthAdjust="spacingAndGlyphs" stroke="#d1d4dc" stroke-width="0.3">0.01400</text>
<text x="1765.7" y="191.9" font-family="'Liberation Sans', sans-serif" font-size="12" fill="#d1d4dc" textLength="42.3" lengthAdjust="spacingAndGlyphs" stroke="#d1d4dc" stroke-width="0.3">0.01350</text>
<text x="1765.7" y="231.9" font-family="'Liberation Sans', sans-serif" font-size="12" fill="#d1d4dc" textLength="42.3" lengthAdjust="spacingAndGlyphs" stroke="#d1d4dc" stroke-width="0.3">0.01300</text>
<text x="1765.7" y="273.5" font-family="'Liberation Sans', sans-serif" font-size="12" fill="#d1d4dc" textLength="42.3" lengthAdjust="spacingAndGlyphs" stroke="#d1d4dc" stroke-width="0.3">0.01250</text>
<text x="1765.7" y="307.9" font-family="'Liberation Sans', sans-serif" font-size="12" fill="#d1d4dc" textLength="42.3" lengthAdjust="spacingAndGlyphs" stroke="#d1d4dc" stroke-width="0.3">0.01210</text>
<text x="1765.7" y="343.6" font-family="'Liberation Sans', sans-serif" font-size="12" fill="#d1d4dc" textLength="42.3" lengthAdjust="spacingAndGlyphs" stroke="#d1d4dc" stroke-width="0.3">0.01170</text>
<text x="1765.7" y="380.4" font-family="'Liberation Sans', sans-serif" font-size="12" fill="#d1d4dc" textLength="42.3" lengthAdjust="spacingAndGlyphs" stroke="#d1d4dc" stroke-width="0.3">0.01130</text>
<text x="1765.7" y="418.6" font-family="'Liberation Sans', sans-serif" font-size="12" fill="#d1d4dc" textLength="42.3" lengthAdjust="spacingAndGlyphs" stroke="#d1d4dc" stroke-width="0.3">0.01090</text>
<text x="1765.7" y="458.3" font-family="'Liberation Sans', sans-serif" font-size="12" fill="#d1d4dc" textLength="42.3" lengthAdjust="spacingAndGlyphs" stroke="#d1d4dc" stroke-width="0.3">0.01050</text>
<text x="1765.7" y="499.4" font-family="'Liberation Sans', sans-serif" font-size="12" fill="#d1d4dc" textLength="42.3" lengthAdjust="spacingAndGlyphs" stroke="#d1d4dc" stroke-width="0.3">0.01010</text>
<text x="1765.7" y="542.3" font-family="'Liberation Sans', sans-serif" font-size="12" fill="#d1d4dc" textLength="42.3" lengthAdjust="spacingAndGlyphs" stroke="#d1d4dc" stroke-width="0.3">0.00970</text>
<text x="1765.7" y="575.6" font-family="'Liberation Sans', sans-serif" font-size="12" fill="#d1d4dc" textLength="42.3" lengthAdjust="spacingAndGlyphs" stroke="#d1d4dc" stroke-width="0.3">0.00940</text>
<text x="1765.7" y="610.0" font-family="'Liberation Sans', sans-serif" font-size="12" fill="#d1d4dc" textLength="42.3" lengthAdjust="spacingAndGlyphs" stroke="#d1d4dc" stroke-width="0.3">0.00910</text>
<text x="1765.7" y="645.5" font-family="'Liberation Sans', sans-serif" font-size="12" fill="#d1d4dc" textLength="42.3" lengthAdjust="spacingAndGlyphs" stroke="#d1d4dc" stroke-width="0.3">0.00880</text>
<text x="1765.7" y="682.3" font-family="'Liberation Sans', sans-serif" font-size="12" fill="#d1d4dc" textLength="42.3" lengthAdjust="spacingAndGlyphs" stroke="#d1d4dc" stroke-width="0.3">0.00850</text>
<text x="1765.7" y="713.9" font-family="'Liberation Sans', sans-serif" font-size="12" fill="#d1d4dc" textLength="42.3" lengthAdjust="spacingAndGlyphs" stroke="#d1d4dc" stroke-width="0.3">0.00825</text>
<text x="1765.7" y="746.5" font-family="'Liberation Sans', sans-serif" font-size="12" fill="#d1d4dc" textLength="42.3" lengthAdjust="spacingAndGlyphs" stroke="#d1d4dc" stroke-width="0.3">0.00800</text>
<text x="1765.7" y="780.2" font-family="'Liberation Sans', sans-serif" font-size="12" fill="#d1d4dc" textLength="42.3" lengthAdjust="spacingAndGlyphs" stroke="#d1d4dc" stroke-width="0.3">0.00775</text>
<text x="1765.7" y="810.7" font-family="'Liberation Sans', sans-serif" font-size="12" fill="#d1d4dc" textLength="42.3" lengthAdjust="spacingAndGlyphs" stroke="#d1d4dc" stroke-width="0.3">0.00753</text>
<rect x="1761.5" y="31.5" width="59" height="25" rx="4" ry="4" fill="#0f0f0f" stroke="#3a3d45" stroke-width="1"/>
<text x="1770" y="49.2" font-family="'Liberation Sans', sans-serif" font-size="12" fill="#d1d4dc" textLength="27.9" lengthAdjust="spacingAndGlyphs" stroke="#d1d4dc" stroke-width="0.3">USDT</text>
<text x="8.3" y="853" font-family="'Liberation Sans', sans-serif" font-size="12" fill="#d1d4dc" text-anchor="middle" clip-path="url(#taxis)" stroke="#d1d4dc" stroke-width="0.3">28</text>
<text x="82.9" y="853" font-family="'Liberation Sans', sans-serif" font-size="12" fill="#d1d4dc" text-anchor="middle" clip-path="url(#taxis)" stroke="#d1d4dc" stroke-width="0.3">30</text>
<text x="157.4" y="853" font-family="'Liberation Sans', sans-serif" font-size="12" fill="#d1d4dc" font-weight="700" text-anchor="middle" clip-path="url(#taxis)">Nov</text>
<text x="231.9" y="853" font-family="'Liberation Sans', sans-serif" font-size="12" fill="#d1d4dc" text-anchor="middle" clip-path="url(#taxis)" stroke="#d1d4dc" stroke-width="0.3">3</text>
<text x="306.5" y="853" font-family="'Liberation Sans', sans-serif" font-size="12" fill="#d1d4dc" text-anchor="middle" clip-path="url(#taxis)" stroke="#d1d4dc" stroke-width="0.3">5</text>
<text x="381.0" y="853" font-family="'Liberation Sans', sans-serif" font-size="12" fill="#d1d4dc" text-anchor="middle" clip-path="url(#taxis)" stroke="#d1d4dc" stroke-width="0.3">7</text>
<text x="455.5" y="853" font-family="'Liberation Sans', sans-serif" font-size="12" fill="#d1d4dc" text-anchor="middle" clip-path="url(#taxis)" stroke="#d1d4dc" stroke-width="0.3">9</text>
<text x="530.0" y="853" font-family="'Liberation Sans', sans-serif" font-size="12" fill="#d1d4dc" text-anchor="middle" clip-path="url(#taxis)" stroke="#d1d4dc" stroke-width="0.3">11</text>
<text x="604.6" y="853" font-family="'Liberation Sans', sans-serif" font-size="12" fill="#d1d4dc" text-anchor="middle" clip-path="url(#taxis)" stroke="#d1d4dc" stroke-width="0.3">13</text>
<text x="679.1" y="853" font-family="'Liberation Sans', sans-serif" font-size="12" fill="#d1d4dc" text-anchor="middle" clip-path="url(#taxis)" stroke="#d1d4dc" stroke-width="0.3">15</text>
<text x="753.6" y="853" font-family="'Liberation Sans', sans-serif" font-size="12" fill="#d1d4dc" text-anchor="middle" clip-path="url(#taxis)" stroke="#d1d4dc" stroke-width="0.3">17</text>
<text x="828.2" y="853" font-family="'Liberation Sans', sans-serif" font-size="12" fill="#d1d4dc" text-anchor="middle" clip-path="url(#taxis)" stroke="#d1d4dc" stroke-width="0.3">19</text>
<text x="902.7" y="853" font-family="'Liberation Sans', sans-serif" font-size="12" fill="#d1d4dc" text-anchor="middle" clip-path="url(#taxis)" stroke="#d1d4dc" stroke-width="0.3">21</text>
<text x="977.2" y="853" font-family="'Liberation Sans', sans-serif" font-size="12" fill="#d1d4dc" text-anchor="middle" clip-path="url(#taxis)" stroke="#d1d4dc" stroke-width="0.3">23</text>
<text x="1051.8" y="853" font-family="'Liberation Sans', sans-serif" font-size="12" fill="#d1d4dc" text-anchor="middle" clip-path="url(#taxis)" stroke="#d1d4dc" stroke-width="0.3">25</text>
<text x="1126.3" y="853" font-family="'Liberation Sans', sans-serif" font-size="12" fill="#d1d4dc" text-anchor="middle" clip-path="url(#taxis)" stroke="#d1d4dc" stroke-width="0.3">27</text>
<text x="1200.8" y="853" font-family="'Liberation Sans', sans-serif" font-size="12" fill="#d1d4dc" text-anchor="middle" clip-path="url(#taxis)" stroke="#d1d4dc" stroke-width="0.3">29</text>
<text x="1275.4" y="853" font-family="'Liberation Sans', sans-serif" font-size="12" fill="#d1d4dc" font-weight="700" text-anchor="middle" clip-path="url(#taxis)">Dec</text>
<text x="1349.9" y="853" font-family="'Liberation Sans', sans-serif" font-size="12" fill="#d1d4dc" text-anchor="middle" clip-path="url(#taxis)" stroke="#d1d4dc" stroke-width="0.3">3</text>
<text x="1424.4" y="853" font-family="'Liberation Sans', sans-serif" font-size="12" fill="#d1d4dc" text-anchor="middle" clip-path="url(#taxis)" stroke="#d1d4dc" stroke-width="0.3">5</text>
<text x="1498.9" y="853" font-family="'Liberation Sans', sans-serif" font-size="12" fill="#d1d4dc" text-anchor="middle" clip-path="url(#taxis)" stroke="#d1d4dc" stroke-width="0.3">7</text>
<text x="1573.5" y="853" font-family="'Liberation Sans', sans-serif" font-size="12" fill="#d1d4dc" text-anchor="middle" clip-path="url(#taxis)" stroke="#d1d4dc" stroke-width="0.3">9</text>
<text x="1648.0" y="853" font-family="'Liberation Sans', sans-serif" font-size="12" fill="#d1d4dc" text-anchor="middle" clip-path="url(#taxis)" stroke="#d1d4dc" stroke-width="0.3">11</text>
<text x="1722.5" y="853" font-family="'Liberation Sans', sans-serif" font-size="12" fill="#d1d4dc" text-anchor="middle" clip-path="url(#taxis)" stroke="#d1d4dc" stroke-width="0.3">13</text>
<path d="M1702,680 H1758 V697 H1702 Q1699,697 1699,694 V683 Q1699,680 1702,680 Z" fill="#26a69a"/>
<path d="M1757,680 H1811 Q1814,680 1814,683 V708 Q1814,711 1811,711 H1757 Z" fill="#26a69a"/>
<text x="1704.5" y="692.8" font-family="'Liberation Sans', sans-serif" font-size="12" fill="#e8fffb" textLength="48.5" lengthAdjust="spacingAndGlyphs" stroke="#e8fffb" stroke-width="0.3">RVNUSDT</text>
<text x="1765.9" y="692.8" font-family="'Liberation Sans', sans-serif" font-size="12" fill="#f2fffd" textLength="42" lengthAdjust="spacingAndGlyphs" stroke="#f2fffd" stroke-width="0.3">0.00842</text>
<text x="1765.9" y="706.5" font-family="'Liberation Sans', sans-serif" font-size="12" fill="#c8fff5" textLength="29.8" lengthAdjust="spacingAndGlyphs" stroke="#c8fff5" stroke-width="0.3">24:26</text>
<g fill="#e0e0e0"><path d="M12,885 H24 V900 H18 V891 H12 Z"/><circle cx="29" cy="888" r="3"/><path d="M34,885 H42 L36.4,900 H29.3 Z"/></g>
<text x="49" y="900" font-family="'Liberation Sans', sans-serif" font-size="21" fill="#e0e0e0" font-weight="700" textLength="121" lengthAdjust="spacingAndGlyphs">TradingView</text>
</svg>
</body></html>
